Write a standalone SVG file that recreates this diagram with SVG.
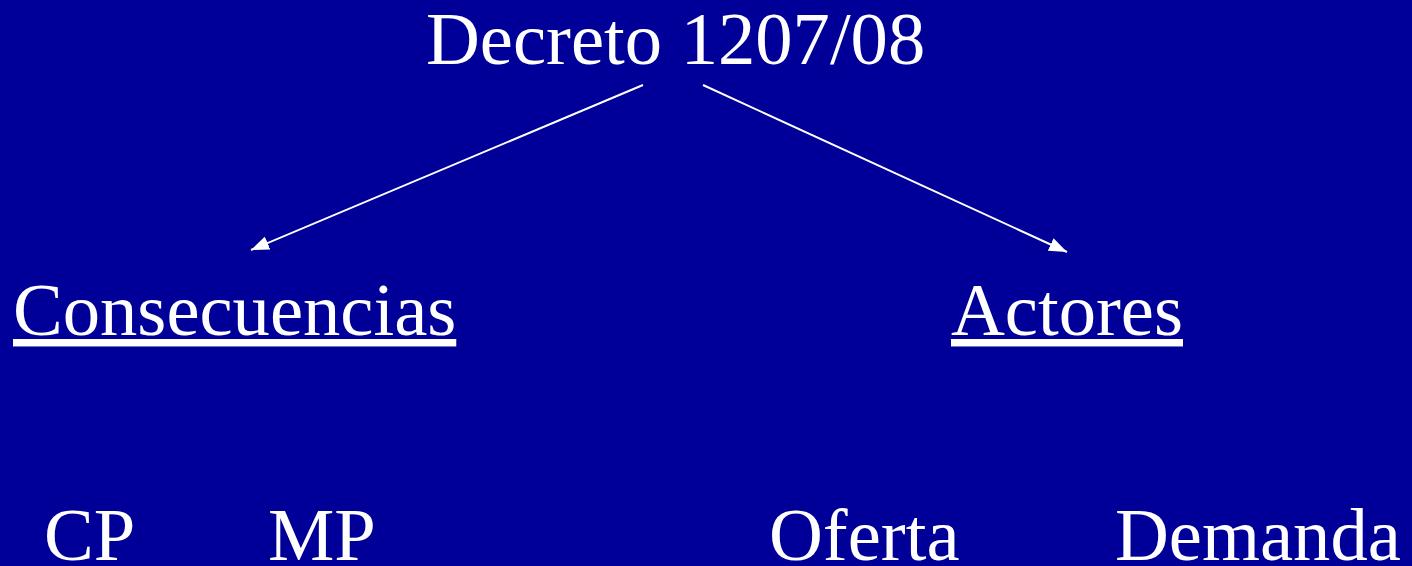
<svg xmlns="http://www.w3.org/2000/svg" width="1412" height="566" viewBox="0 0 1412 566">
<style>
text{font-family:"Liberation Serif","Times New Roman",serif;font-size:74.6px;fill:#fff}
.u{text-decoration:underline}
.c{stroke:#fff;stroke-width:2;fill:none}
</style>
<defs>
<marker id="a" viewBox="0 0 18 14" refX="18" refY="7" markerWidth="18" markerHeight="14" markerUnits="userSpaceOnUse" orient="auto">
<path d="M0,0 L18,7 L0,14 Z" fill="#fff"/>
</marker>
</defs>
<rect width="1412" height="566" fill="#000099"/>
<g id="connectors">
<line class="c" x1="643" y1="85" x2="251" y2="250" marker-end="url(#a)"/>
<line class="c" x1="703" y1="85" x2="1067" y2="252" marker-end="url(#a)"/>
</g>
<g id="decreto"><text x="426" y="64">Decreto 1207/08</text></g>
<g id="consecuencias"><text class="u" x="13" y="335">Consecuencias</text></g>
<g id="actores"><text class="u" x="951" y="335">Actores</text></g>
<g id="cp"><text x="44" y="560">CP</text></g>
<g id="mp"><text x="268" y="560">MP</text></g>
<g id="oferta"><text x="769" y="560">Oferta</text></g>
<g id="demanda"><text x="1115" y="560">Demanda</text></g>
</svg>
